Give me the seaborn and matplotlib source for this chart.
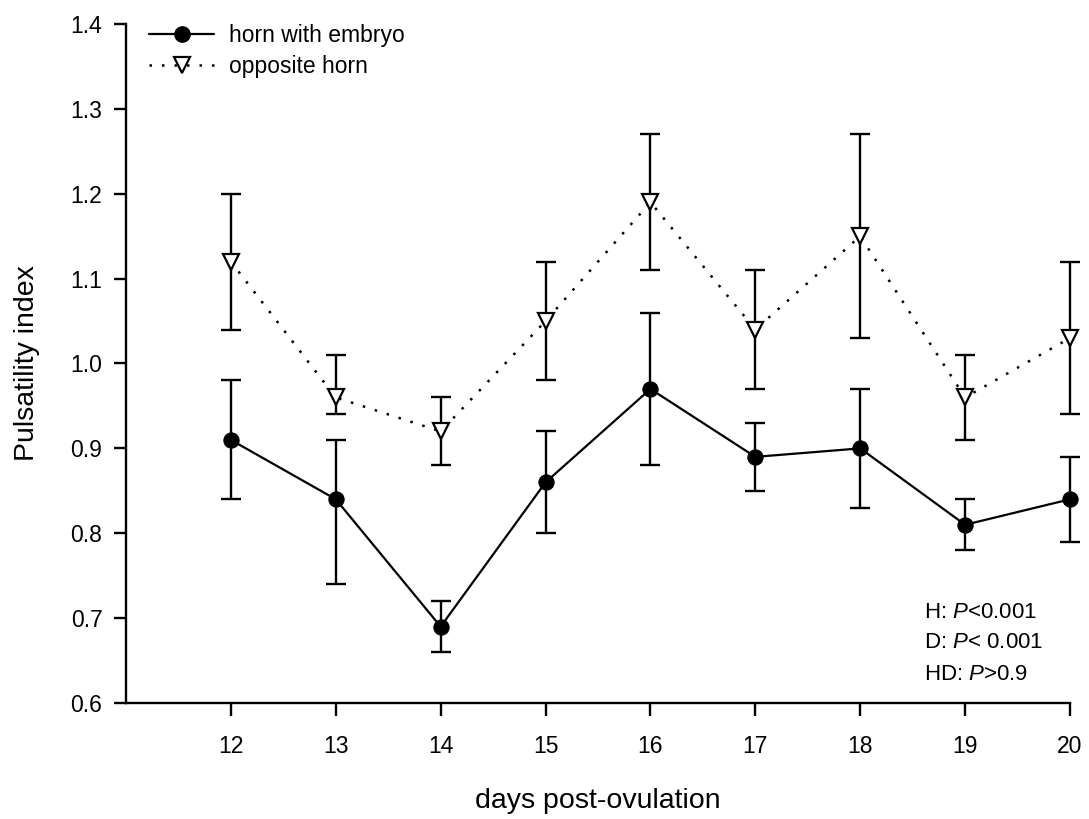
import matplotlib
matplotlib.use("Agg")
import matplotlib.pyplot as plt
from matplotlib.lines import Line2D
import seaborn as sns
import pandas as pd

days = [12, 13, 14, 15, 16, 17, 18, 19, 20]
embryo_mean = [0.91, 0.84, 0.69, 0.86, 0.97, 0.89, 0.90, 0.81, 0.84]
embryo_low = [0.84, 0.74, 0.66, 0.80, 0.88, 0.85, 0.83, 0.78, 0.79]
embryo_high = [0.98, 0.91, 0.72, 0.92, 1.06, 0.93, 0.97, 0.84, 0.89]
opp_mean = [1.12, 0.96, 0.92, 1.05, 1.19, 1.04, 1.15, 0.96, 1.03]
opp_low = [1.04, 0.94, 0.88, 0.98, 1.11, 0.97, 1.03, 0.91, 0.94]
opp_high = [1.20, 1.01, 0.96, 1.12, 1.27, 1.11, 1.27, 1.01, 1.12]
y_ticks = [0.6, 0.7, 0.8, 0.9, 1.0, 1.1, 1.2, 1.3, 1.4]
stats_lines = [("H: ", "P", "<0.001"), ("D: ", "P", "< 0.001"), ("HD: ", "P", ">0.9")]

sns.set_theme(style="ticks")
plt.rcParams['font.family'] = ['Liberation Sans', 'DejaVu Sans']
plt.rcParams['mathtext.fontset'] = 'custom'
plt.rcParams['mathtext.rm'] = 'Liberation Sans'
plt.rcParams['mathtext.it'] = 'Liberation Sans:italic'
plt.rcParams['text.color'] = 'black'
plt.rcParams['axes.labelcolor'] = 'black'

fig = plt.figure(figsize=(10.89, 8.19), dpi=100)
ax = fig.add_axes([126/1089, 1-703/819, (1070-126)/1089, (703-24)/819])

df_e = pd.DataFrame({"day": days, "pi": embryo_mean})
df_o = pd.DataFrame({"day": days, "pi": opp_mean})

lw = 1.7
# error bars
ax.errorbar(days, embryo_mean,
            yerr=[[m - l for m, l in zip(embryo_mean, embryo_low)],
                  [h - m for m, h in zip(embryo_mean, embryo_high)]],
            fmt='none', ecolor='black', elinewidth=lw, capsize=7.5, capthick=lw,
            clip_on=False, zorder=2)
ax.errorbar(days, opp_mean,
            yerr=[[m - l for m, l in zip(opp_mean, opp_low)],
                  [h - m for m, h in zip(opp_mean, opp_high)]],
            fmt='none', ecolor='black', elinewidth=lw, capsize=7.5, capthick=lw,
            clip_on=False, zorder=2)

sns.lineplot(data=df_o, x="day", y="pi", ax=ax, color='black', lw=1.8,
             linestyle=(0, (1, 4)), marker='v', markersize=11,
             markerfacecolor='white', markeredgecolor='black', markeredgewidth=1.6,
             clip_on=False, zorder=3)
sns.lineplot(data=df_e, x="day", y="pi", ax=ax, color='black', lw=1.6,
             linestyle='-', marker='o', markersize=11,
             markerfacecolor='black', markeredgecolor='black',
             clip_on=False, zorder=3)

ax.set_xlim(11, 20)
ax.set_ylim(0.6, 1.4)
ax.set_xticks(days)
ax.set_xticklabels([str(d) for d in days])
ax.set_yticks(y_ticks)
ax.set_yticklabels([f"{v:.1f}" for v in y_ticks])
ax.tick_params(axis='both', direction='out', length=9, width=lw,
               colors='black', labelcolor='black', pad=8)
ax.tick_params(axis='y', labelsize=16.5)
ax.tick_params(axis='x', labelsize=16.5, pad=14)
for s in ['top', 'right']:
    ax.spines[s].set_visible(False)
for s in ['left', 'bottom']:
    ax.spines[s].set_linewidth(lw)
    ax.spines[s].set_color('black')

ax.set_xlabel("days post-ovulation", fontsize=20.5, labelpad=22, color='black')
ax.set_ylabel("Pulsatility index", fontsize=20.5, labelpad=22, color='black')

handles = [
    Line2D([0], [0], color='black', lw=1.6, marker='o', markersize=11,
           markerfacecolor='black'),
    Line2D([0], [0], color='black', lw=1.8, linestyle=(0, (1, 4)), marker='v',
           markersize=11, markerfacecolor='white', markeredgewidth=1.6),
]
leg = ax.legend(handles, ["horn with embryo", "opposite horn"], loc='upper left',
                bbox_to_anchor=(0.003, 1.03), frameon=False, fontsize=16.5,
                handlelength=2.8, handletextpad=0.65, labelspacing=0.35)
for t in leg.get_texts():
    t.set_color('black')

for i, (a, p, b) in enumerate(stats_lines):
    fig.text(924/1089, 1 - (612 + 31*i)/819, f"{a}$\\it{{{p}}}${b}",
             fontsize=16, ha='left', va='center', color='black')

fig.savefig("out.png", dpi=100, facecolor='white')
